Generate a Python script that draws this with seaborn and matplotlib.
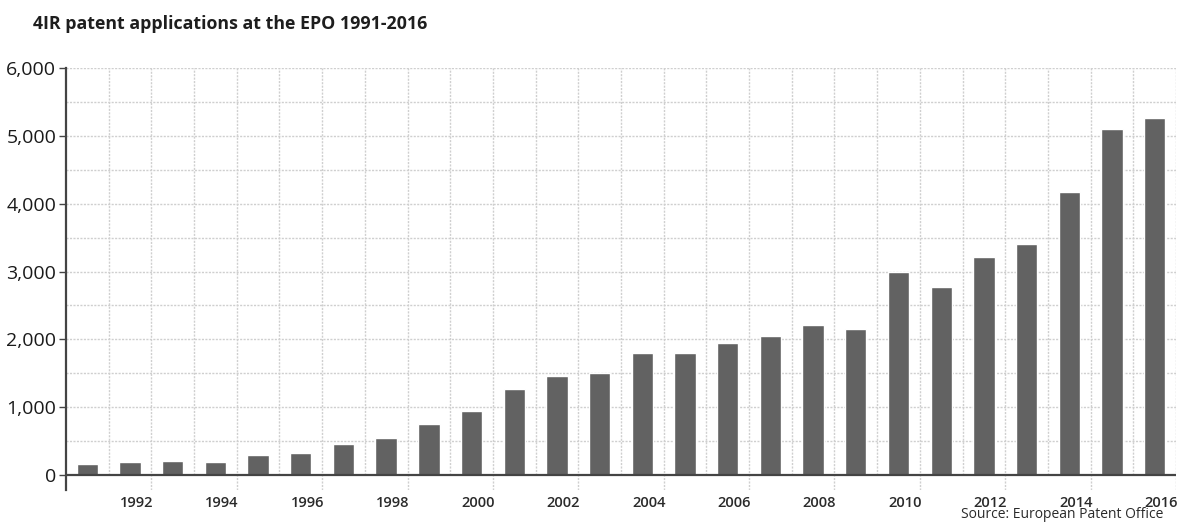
import matplotlib
matplotlib.use("Agg")
import matplotlib.pyplot as plt
import seaborn as sns
import pandas as pd

years = [str(y) for y in range(1991, 2017)]
applications = [160, 190, 200, 195, 290, 325, 460, 545, 750, 945,
                1270, 1460, 1505, 1800, 1800, 1950, 2050, 2215, 2155, 2995,
                2775, 3215, 3405, 4175, 5105, 5265]
ytick_values = [0, 1000, 2000, 3000, 4000, 5000, 6000]
title = "4IR patent applications at the EPO 1991-2016"
source = "Source: European Patent Office"

sns.set_theme(style="white")
plt.rcParams['font.family'] = ['Open Sans', 'DejaVu Sans']

df = pd.DataFrame({"year": years, "apps": applications})

fig = plt.figure(figsize=(11.8, 5.32), dpi=100)
ax = fig.add_axes([0.0559, 0.079, 0.9407, 0.793])

sns.barplot(data=df, x="year", y="apps", color="#626262", saturation=1,
            width=0.5, ax=ax, zorder=3)

ax.set_xlim(-0.5, len(years) - 0.5)
ax.set_ylim(-221, 6000)

grid_kw = dict(color="#cfcfcf", lw=1.0, ls=(0, (1.5, 1)), zorder=1)
# horizontal grid every 500
for v in range(500, 6001, 500):
    ax.axhline(v, **grid_kw)
# vertical grid at category boundaries
for i in range(len(years)):
    b = i + 0.5
    long_tick = (int(years[i]) % 2 == 0)
    ymin = -221 if long_tick else 0
    ax.vlines(b, ymin, 6000, **grid_kw)

ax.axhline(0, color="#444444", lw=1.6, zorder=4)

for s in ["top", "right", "bottom"]:
    ax.spines[s].set_visible(False)
ax.spines["left"].set_color("#444444")
ax.spines["left"].set_linewidth(1.6)

ax.set_yticks(ytick_values)
ax.set_yticklabels([f"{v:,}" for v in ytick_values], fontsize=14, color="#1a1a1a")
ax.tick_params(axis="y", length=5, width=1, color="#444444", pad=2, left=True)

xt = [i for i, y in enumerate(years) if int(y) % 2 == 0]
ax.set_xticks([i + 0.15 for i in xt])
ax.set_xticklabels([years[i] for i in xt], fontsize=10.5, fontweight="semibold",
                   color="#2a2a2a")
ax.tick_params(axis="x", length=0, pad=4)
ax.set_xlabel("")
ax.set_ylabel("")

fig.text(0.028, 0.955, title, fontsize=12.8, fontweight="bold",
         color="#1e1e1e", va="center", ha="left")
fig.text(0.986, 0.018, source, fontsize=10, color="#2a2a2a",
         ha="right", va="bottom")

fig.savefig("out.png", dpi=100)
